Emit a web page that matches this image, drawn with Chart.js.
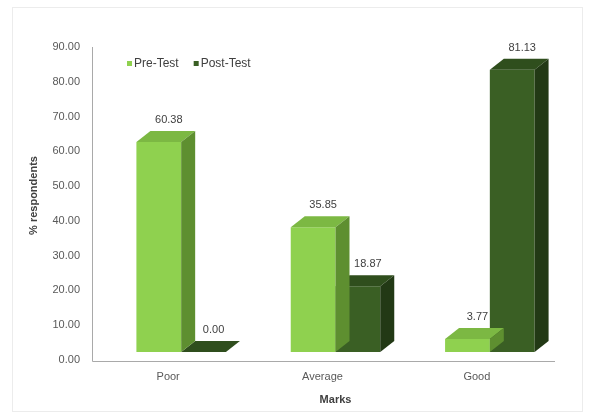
<!DOCTYPE html>
<html>
<head>
<meta charset="utf-8">
<script src="https://cdn.jsdelivr.net/npm/chart.js@4.4.1/dist/chart.umd.min.js"></script>
<style>
  html, body { margin: 0; padding: 0; background: #fff; }
  #wrap { position: relative; width: 593px; height: 419px; }
</style>
</head>
<body>
<div id="wrap"><canvas id="myChart"></canvas></div>
<script>
const categories = ["Poor", "Average", "Good"];
const preTest = [60.38, 35.85, 3.77];
const postTest = [0.00, 18.87, 81.13];
const yTicks = [0, 10, 20, 30, 40, 50, 60, 70, 80, 90];

const FONT = '"Liberation Sans", Arial, sans-serif';
const DEPTH_X = 14;
const DEPTH_Y = 11;
const LABEL_SHIFT = 8; // axis labels sit on the floor edge, a bit below the bar base

// face colours per series: front, top, side
const shades = [
  { front: '#8fd14f', top: '#7cb843', side: '#5e8f30' },
  { front: '#3a5f24', top: '#2f4e1d', side: '#223915' }
];

// top and side faces so the columns look like boxes
const boxes3d = {
  id: 'boxes3d',
  afterDatasetDraw(chart, args) {
    const ctx = chart.ctx;
    const c = shades[args.index];
    ctx.save();
    args.meta.data.forEach((bar, i) => {
      const {x, y, base, width} = bar.getProps(['x', 'y', 'base', 'width'], true);
      const l = x - width / 2, r = x + width / 2;
      ctx.fillStyle = c.top;
      ctx.beginPath();
      ctx.moveTo(l, y);
      ctx.lineTo(l + DEPTH_X, y - DEPTH_Y);
      ctx.lineTo(r + DEPTH_X, y - DEPTH_Y);
      ctx.lineTo(r, y);
      ctx.closePath();
      ctx.fill();
      ctx.fillStyle = c.side;
      ctx.beginPath();
      ctx.moveTo(r, y);
      ctx.lineTo(r + DEPTH_X, y - DEPTH_Y);
      ctx.lineTo(r + DEPTH_X, base - DEPTH_Y);
      ctx.lineTo(r, base);
      ctx.closePath();
      ctx.fill();

      // value above the top face
      const v = chart.data.datasets[args.index].data[i];
      ctx.fillStyle = '#404040';
      ctx.font = '11px ' + FONT;
      ctx.textAlign = 'center';
      ctx.textBaseline = 'middle';
      ctx.fillText(v.toFixed(2), x + 10, y - 22);
    });
    ctx.restore();
  }
};

// axis lines, frame and the legend inside the plot
const decorations = {
  id: 'decorations',
  beforeDraw(chart) {
    const ctx = chart.ctx;
    ctx.save();
    ctx.strokeStyle = '#ececec';
    ctx.lineWidth = 1;
    ctx.strokeRect(12.5, 7.5, 570, 404);
    ctx.restore();
  },
  beforeDatasetsDraw(chart) {
    const ctx = chart.ctx;
    const ys = chart.scales.y;
    const yTop = ys.getPixelForValue(90) + LABEL_SHIFT;
    const yBot = Math.round(ys.getPixelForValue(0) + LABEL_SHIFT + 1) + 0.5;
    const xLeft = 92.5;
    ctx.save();
    ctx.strokeStyle = '#a9a9a9';
    ctx.lineWidth = 1;
    ctx.beginPath();
    ctx.moveTo(xLeft, yTop);
    ctx.lineTo(xLeft, yBot);
    ctx.lineTo(555, yBot);
    ctx.stroke();
    ctx.restore();
  },
  afterDraw(chart) {
    const ctx = chart.ctx;
    let x = 127;
    const y = 64;
    ctx.save();
    ctx.font = '12px ' + FONT;
    ctx.textBaseline = 'middle';
    ctx.textAlign = 'left';
    chart.data.datasets.forEach(ds => {
      ctx.fillStyle = ds.backgroundColor;
      ctx.fillRect(x, y - 3, 5, 5);
      ctx.fillStyle = '#404040';
      ctx.fillText(ds.label, x + 7, y);
      x += 7 + ctx.measureText(ds.label).width + 15;
    });
    ctx.restore();
  }
};

const data = {
  labels: categories,
  datasets: [
    { label: 'Pre-Test', data: preTest, backgroundColor: shades[0].front },
    { label: 'Post-Test', data: postTest, backgroundColor: shades[1].front }
  ]
};

const options = {
  responsive: true,
  maintainAspectRatio: false,
  animation: false,
  layout: { padding: { left: 12, top: 39, right: 26, bottom: 7 } },
  datasets: {
    bar: { categoryPercentage: 0.58, barPercentage: 1.0, borderWidth: 0 }
  },
  plugins: {
    legend: { display: false },
    tooltip: { enabled: false }
  },
  scales: {
    x: {
      grid: { display: false },
      border: { display: false },
      ticks: { color: '#595959', font: { family: FONT, size: 11 }, padding: 10, labelOffset: -13 },
      title: {
        display: true, text: 'Marks', color: '#404040',
        font: { family: FONT, size: 11, weight: 'bold' },
        padding: { top: 0, bottom: 5 }
      },
      afterFit(s) { s.height = 60; }
    },
    y: {
      min: 0,
      max: 90,
      grid: { display: false },
      border: { display: false },
      afterBuildTicks(s) { s.ticks = yTicks.map(v => ({ value: v })); },
      ticks: {
        color: '#595959', font: { family: FONT, size: 11 }, padding: 16,
        labelOffset: LABEL_SHIFT,
        callback: v => Number(v).toFixed(2)
      },
      title: {
        display: true, text: '% respondents', color: '#404040',
        font: { family: FONT, size: 11, weight: 'bold' },
        padding: { top: 15, bottom: 0 }
      },
      afterFit(s) { s.width = 92; }
    }
  }
};

const chart = new Chart(document.getElementById('myChart'), {
  type: 'bar',
  data: data,
  options: options,
  plugins: [decorations, boxes3d]
});
</script>
</body>
</html>
